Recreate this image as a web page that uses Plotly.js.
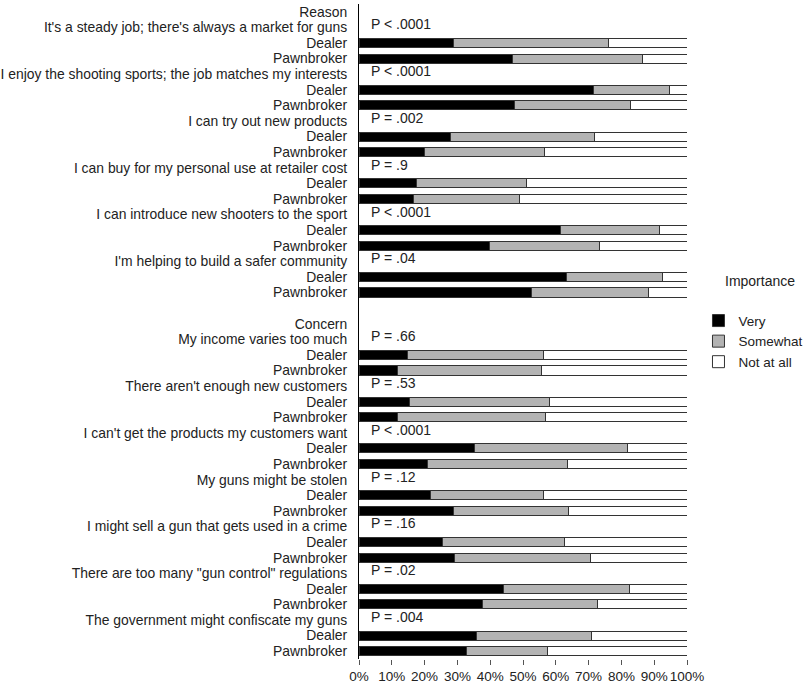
<!DOCTYPE html>
<html>
<head>
<meta charset="utf-8">
<script src="https://cdn.plot.ly/plotly-3.0.1.min.js"></script>
<style>html,body{margin:0;padding:0;background:#fff;}#chart{width:805px;height:686px;}</style>
</head>
<body>
<div id="chart"></div>
<script>
// ---- Data ----
const reasons = [
  "It's a steady job; there's always a market for guns",
  "I enjoy the shooting sports; the job matches my interests",
  "I can try out new products",
  "I can buy for my personal use at retailer cost",
  "I can introduce new shooters to the sport",
  "I'm helping to build a safer community"
];
const reasonP = ["P < .0001", "P < .0001", "P = .002", "P = .9", "P < .0001", "P = .04"];
const concerns = [
  "My income varies too much",
  "There aren't enough new customers",
  "I can't get the products my customers want",
  "My guns might be stolen",
  "I might sell a gun that gets used in a crime",
  "There are too many \"gun control\" regulations",
  "The government might confiscate my guns"
];
const concernP = ["P = .66", "P = .53", "P < .0001", "P = .12", "P = .16", "P = .02", "P = .004"];

// Percentages: Very, Somewhat, Not at all
const reasonDealerVery      = [28.8, 71.4, 27.8, 17.6, 61.3, 63.4];
const reasonDealerSomewhat  = [47.2, 23.3, 44.0, 33.4, 30.4, 29.1];
const reasonDealerNot       = [24.0,  5.3, 28.2, 49.0,  8.3,  7.5];
const reasonPawnVery        = [46.8, 47.5, 20.0, 16.6, 39.7, 52.5];
const reasonPawnSomewhat    = [39.7, 35.3, 36.6, 32.4, 33.7, 35.9];
const reasonPawnNot         = [13.5, 17.2, 43.4, 51.0, 26.6, 11.6];

const concernDealerVery     = [14.7, 15.3, 35.1, 21.7, 25.4, 44.1, 35.9];
const concernDealerSomewhat = [41.6, 42.7, 46.9, 34.7, 37.3, 38.4, 35.0];
const concernDealerNot      = [43.7, 42.0, 18.0, 43.6, 37.3, 17.5, 29.1];
const concernPawnVery       = [11.8, 11.8, 20.9, 28.8, 29.0, 37.7, 32.7];
const concernPawnSomewhat   = [43.7, 45.0, 42.8, 35.2, 41.6, 35.0, 24.8];
const concernPawnNot        = [44.5, 43.2, 36.3, 36.0, 29.4, 27.3, 42.5];

const groupLabels = ["Reason", "Concern"];
const roleLabels = ["Dealer", "Pawnbroker"];
const xTickVals = [0,10,20,30,40,50,60,70,80,90,100];

// ---- Build rows ----
const FAMILY = 'Liberation Sans, Arial, Helvetica, sans-serif';
const tickvals = [], ticktext = [];
const yV = [], xVery = [], xSome = [], xNot = [];
const annotations = [];
let row = 0;
function addGroup(label, items, pvals, dV, dS, dN, pV, pS, pN) {
  tickvals.push(row); ticktext.push(label); row++;
  items.forEach((it, i) => {
    tickvals.push(row); ticktext.push(it);
    annotations.push({x: 0, y: row, xref: 'x', yref: 'y', text: pvals[i], showarrow: false,
      xanchor: 'left', xshift: 10, yshift: 3, font: {family: FAMILY, size: 14, color: '#222'}});
    row++;
    tickvals.push(row); ticktext.push(roleLabels[0]);
    yV.push(row); xVery.push(dV[i]); xSome.push(dS[i]); xNot.push(dN[i]); row++;
    tickvals.push(row); ticktext.push(roleLabels[1]);
    yV.push(row); xVery.push(pV[i]); xSome.push(pS[i]); xNot.push(pN[i]); row++;
  });
}
addGroup(groupLabels[0], reasons, reasonP, reasonDealerVery, reasonDealerSomewhat, reasonDealerNot,
         reasonPawnVery, reasonPawnSomewhat, reasonPawnNot);
row++; // blank spacer row
addGroup(groupLabels[1], concerns, concernP, concernDealerVery, concernDealerSomewhat, concernDealerNot,
         concernPawnVery, concernPawnSomewhat, concernPawnNot);
const nRows = row;

const lineStyle = {color: '#333', width: 1};
const common = {type: 'bar', orientation: 'h', y: yV, width: 0.58, hoverinfo: 'x+name'};
const traces = [
  Object.assign({}, common, {name: 'Very', x: xVery, marker: {color: '#000000', line: lineStyle}}),
  Object.assign({}, common, {name: 'Somewhat', x: xSome, marker: {color: '#b3b3b3', line: lineStyle}}),
  Object.assign({}, common, {name: 'Not at all', x: xNot, marker: {color: '#ffffff', line: lineStyle}})
];

annotations.push({xref: 'paper', yref: 'paper', x: 1.11, y: 0.577, xanchor: 'left', yanchor: 'middle',
  text: 'Importance', showarrow: false, font: {family: FAMILY, size: 14, color: '#222'}});

const font = {family: FAMILY, size: 13.9, color: '#222'};
const layout = {
  width: 805, height: 686,
  margin: {l: 359, r: 118, t: 4, b: 27, pad: 0, autoexpand: false},
  paper_bgcolor: '#fff', plot_bgcolor: '#fff',
  font: font,
  barmode: 'stack',
  bargap: 0,
  showlegend: true,
  legend: {x: 1.035, y: 0.54, xanchor: 'left', yanchor: 'top', traceorder: 'normal',
    font: {family: FAMILY, size: 13.5, color: '#222'}, itemwidth: 30, tracegroupgap: 0},
  xaxis: {range: [0, 100], tickvals: xTickVals, ticktext: xTickVals.map(v => v + '%'),
    showgrid: false, zeroline: false, showline: false, ticks: 'outside', ticklen: 5, tickcolor: '#555',
    tickangle: 0, tickfont: {family: FAMILY, size: 13.5, color: '#222'}, fixedrange: true},
  yaxis: {range: [nRows - 0.5, -0.5], tickvals: tickvals, ticktext: ticktext, showgrid: false, zeroline: false,
    showline: true, linecolor: '#000', linewidth: 1, ticks: 'outside', ticklen: 8, tickcolor: 'rgba(0,0,0,0)',
    tickfont: font, fixedrange: true},
  annotations: annotations
};
Plotly.newPlot('chart', traces, layout, {displayModeBar: false, staticPlot: true});
</script>
</body>
</html>
